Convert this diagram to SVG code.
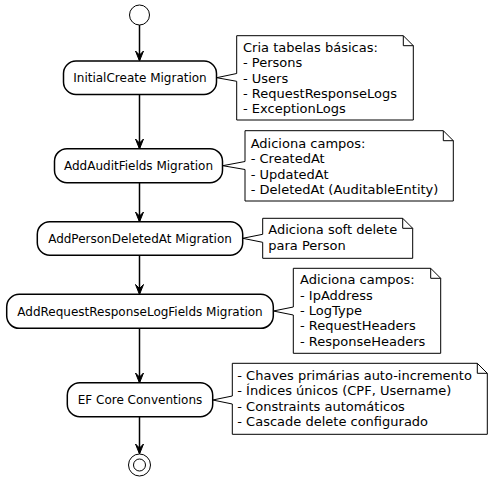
<svg xmlns="http://www.w3.org/2000/svg" width="493" height="481" viewBox="0 0 493 481">
<defs>
<style>
.act{fill:#ffffff;stroke:#000000;stroke-width:1.5}
.note{fill:#ffffff;stroke:#000000;stroke-width:1}
.fold{fill:none;stroke:#000000;stroke-width:1}
.lbl{font-family:"DejaVu Sans",sans-serif;font-size:12px;fill:#000000;text-anchor:middle}
.nt{font-family:"DejaVu Sans",sans-serif;font-size:13px;fill:#000000}
.edge{stroke:#000000;stroke-width:1.5;fill:none}
.head{fill:#000000;stroke:#000000;stroke-width:1}
</style>
</defs>
<rect width="493" height="481" fill="#ffffff"/>
<g id="connectors">
<line class="edge" x1="139.5" y1="25" x2="139.5" y2="60"/>
<polygon class="head" points="135.5,51 139.5,61 143.5,51 139.5,55"/>
<line class="edge" x1="139.5" y1="94.5" x2="139.5" y2="148"/>
<polygon class="head" points="135.5,139 139.5,149 143.5,139 139.5,143"/>
<line class="edge" x1="139.5" y1="182.7" x2="139.5" y2="221"/>
<polygon class="head" points="135.5,212 139.5,222 143.5,212 139.5,216"/>
<line class="edge" x1="139.5" y1="255.2" x2="139.5" y2="293.5"/>
<polygon class="head" points="135.5,284.5 139.5,294.5 143.5,284.5 139.5,288.5"/>
<line class="edge" x1="139.5" y1="328.3" x2="139.5" y2="382"/>
<polygon class="head" points="135.5,373 139.5,383 143.5,373 139.5,377"/>
<line class="edge" x1="139.5" y1="416.7" x2="139.5" y2="453"/>
<polygon class="head" points="135.5,444 139.5,454 143.5,444 139.5,448"/>
</g>
<g id="start">
<circle cx="139.5" cy="15" r="10" fill="#ffffff" stroke="#000000" stroke-width="1"/>
</g>
<g id="initialCreate">
<rect class="act" x="63.5" y="61" width="153" height="33.5" rx="12.5"/>
<text class="lbl" x="140" y="81.8">InitialCreate Migration</text>
</g>
<g id="note1">
<path class="note" d="M236.7,35.7 L403.3,35.7 L413.3,45.7 L413.3,120 L236.7,120 L236.7,81.3 L216.7,77.7 L236.7,73.5 Z"/>
<path class="fold" d="M403.3,35.7 L403.3,45.7 L413.3,45.7"/>
<text class="nt" x="243" y="52">Cria tabelas básicas:</text>
<text class="nt" x="243" y="67.3">- Persons</text>
<text class="nt" x="243" y="82.6">- Users</text>
<text class="nt" x="243" y="97.9">- RequestResponseLogs</text>
<text class="nt" x="243" y="113.2">- ExceptionLogs</text>
</g>
<g id="addAuditFields">
<rect class="act" x="54.5" y="148.7" width="168" height="34" rx="12.5"/>
<text class="lbl" x="138.5" y="169.9">AddAuditFields Migration</text>
</g>
<g id="note2">
<path class="note" d="M245,130.7 L443.3,130.7 L453.3,140.7 L453.3,201 L245,201 L245,169.5 L222.7,165.7 L245,161.5 Z"/>
<path class="fold" d="M443.3,130.7 L443.3,140.7 L453.3,140.7"/>
<text class="nt" x="250.7" y="148">Adiciona campos:</text>
<text class="nt" x="250.7" y="163.3">- CreatedAt</text>
<text class="nt" x="250.7" y="178.6">- UpdatedAt</text>
<text class="nt" x="250.7" y="193.9">- DeletedAt (AuditableEntity)</text>
</g>
<g id="addPersonDeletedAt">
<rect class="act" x="37.3" y="221.7" width="205.4" height="33.5" rx="12.5"/>
<text class="lbl" x="140" y="242.6">AddPersonDeletedAt Migration</text>
</g>
<g id="note3">
<path class="note" d="M262.7,218.3 L402.7,218.3 L412.7,228.3 L412.7,258.3 L262.7,258.3 L262.7,242.3 L242.7,238.3 L262.7,234.3 Z"/>
<path class="fold" d="M402.7,218.3 L402.7,228.3 L412.7,228.3"/>
<text class="nt" x="268.3" y="234.3">Adiciona soft delete</text>
<text class="nt" x="268.3" y="249.6">para Person</text>
</g>
<g id="addRequestResponseLogFields">
<rect class="act" x="6.7" y="294.3" width="266.6" height="34" rx="12.5"/>
<text class="lbl" x="140" y="315.5">AddRequestResponseLogFields Migration</text>
</g>
<g id="note4">
<path class="note" d="M293.3,268.3 L430.7,268.3 L440.7,278.3 L440.7,353.3 L293.3,353.3 L293.3,315 L273.3,311 L293.3,307 Z"/>
<path class="fold" d="M430.7,268.3 L430.7,278.3 L440.7,278.3"/>
<text class="nt" x="300" y="284.3">Adiciona campos:</text>
<text class="nt" x="300" y="299.6">- IpAddress</text>
<text class="nt" x="300" y="314.9">- LogType</text>
<text class="nt" x="300" y="330.2">- RequestHeaders</text>
<text class="nt" x="300" y="345.5">- ResponseHeaders</text>
</g>
<g id="efCoreConventions">
<rect class="act" x="67.3" y="382.7" width="145.4" height="34" rx="12.5"/>
<text class="lbl" x="140" y="404">EF Core Conventions</text>
</g>
<g id="note5">
<path class="note" d="M232.3,363.3 L477.3,363.3 L487.3,373.3 L487.3,434.3 L232.3,434.3 L232.3,404 L212.7,400 L232.3,396 Z"/>
<path class="fold" d="M477.3,363.3 L477.3,373.3 L487.3,373.3"/>
<text class="nt" x="237.3" y="380">- Chaves primárias auto-incremento</text>
<text class="nt" x="237.3" y="395.3">- Índices únicos (CPF, Username)</text>
<text class="nt" x="237.3" y="410.6">- Constraints automáticos</text>
<text class="nt" x="237.3" y="425.9">- Cascade delete configurado</text>
</g>
<g id="end">
<circle cx="139.5" cy="465" r="11" fill="#ffffff" stroke="#000000" stroke-width="1"/>
<circle cx="139.5" cy="465" r="6" fill="#ffffff" stroke="#000000" stroke-width="1"/>
</g>
</svg>
